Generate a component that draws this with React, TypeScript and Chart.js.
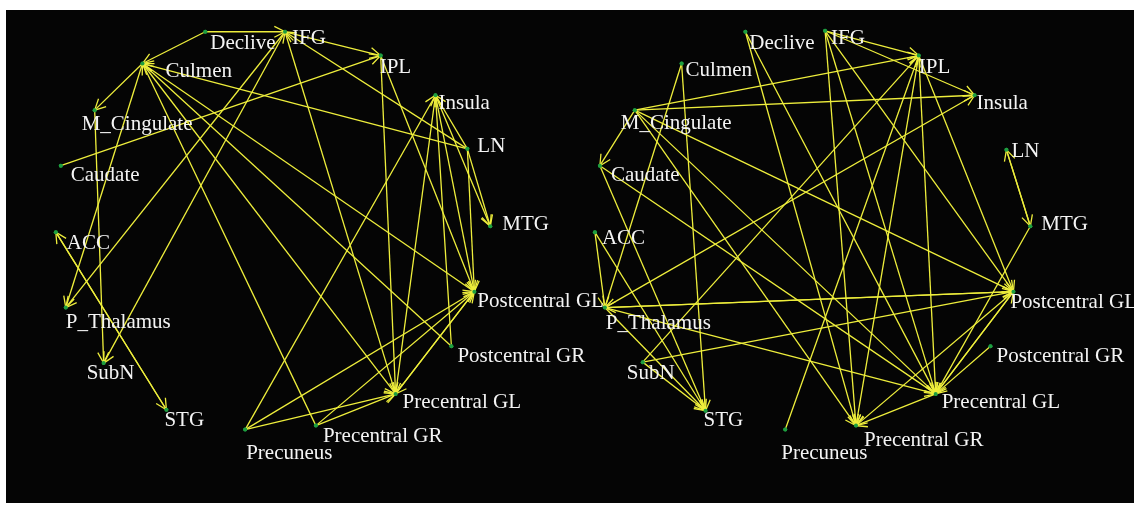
import React, { useEffect, useRef } from "react";
import { Chart, registerables } from "chart.js";

Chart.register(...registerables);

// ---------- data ----------
const NODE_NAMES = [
  "Declive", "IFG", "Culmen", "IPL", "Insula", "M_Cingulate", "LN", "Caudate", "MTG",
  "ACC", "Postcentral GL", "P_Thalamus", "Postcentral GR", "SubN", "Precentral GL",
  "STG", "Precentral GR", "Precuneus",
];

// layout coordinates of the nodes in each network (figure units)
const LEFT_X = [204, 284, 141, 380, 435, 93, 467, 59, 490, 54, 474, 64, 451, 102, 395, 165, 315, 244];
const LEFT_Y = [30, 30, 62, 54, 94, 109, 148, 165, 226, 232, 292, 308, 347, 364, 395, 411, 427, 431];
const RIGHT_X = [746, 826, 682, 920, 976, 635, 1008, 600, 1032, 595, 1015, 605, 992, 643, 937, 706, 857, 786];
const RIGHT_Y = [30, 29, 62, 54, 94, 109, 149, 165, 226, 232, 292, 308, 347, 363, 395, 412, 427, 431];

// directed connections [source, target]
const LEFT_EDGES: [string, string][] = [
  ["Declive", "IFG"],
  ["Declive", "Culmen"],
  ["LN", "IFG"],
  ["IFG", "IPL"],
  ["IFG", "P_Thalamus"],
  ["IFG", "SubN"],
  ["Precentral GL", "IFG"],
  ["Caudate", "IPL"],
  ["Culmen", "M_Cingulate"],
  ["Culmen", "P_Thalamus"],
  ["M_Cingulate", "SubN"],
  ["ACC", "STG"],
  ["STG", "ACC"],
  ["LN", "Culmen"],
  ["Precentral GR", "Culmen"],
  ["Culmen", "Precentral GL"],
  ["Postcentral GR", "Culmen"],
  ["Culmen", "Postcentral GL"],
  ["IPL", "Precentral GL"],
  ["IPL", "Postcentral GL"],
  ["Precuneus", "Insula"],
  ["Insula", "Precentral GL"],
  ["Postcentral GR", "Insula"],
  ["Insula", "Postcentral GL"],
  ["LN", "Postcentral GL"],
  ["LN", "Insula"],
  ["Insula", "MTG"],
  ["LN", "MTG"],
  ["Precuneus", "Postcentral GL"],
  ["Precuneus", "Precentral GL"],
  ["Precentral GR", "Precentral GL"],
  ["Precentral GR", "Postcentral GL"],
  ["Precentral GL", "Postcentral GL"],
  ["Postcentral GL", "Precentral GL"],
];

const RIGHT_EDGES: [string, string][] = [
  ["M_Cingulate", "IPL"],
  ["M_Cingulate", "Insula"],
  ["M_Cingulate", "Caudate"],
  ["M_Cingulate", "Precentral GR"],
  ["M_Cingulate", "Precentral GL"],
  ["M_Cingulate", "Postcentral GL"],
  ["Culmen", "P_Thalamus"],
  ["Culmen", "STG"],
  ["Declive", "Precentral GR"],
  ["Declive", "Precentral GL"],
  ["IFG", "IPL"],
  ["IFG", "Insula"],
  ["IFG", "Precentral GR"],
  ["IFG", "Precentral GL"],
  ["IFG", "Postcentral GL"],
  ["SubN", "IPL"],
  ["Precuneus", "IPL"],
  ["IPL", "Precentral GR"],
  ["IPL", "Precentral GL"],
  ["IPL", "Postcentral GL"],
  ["SubN", "Postcentral GL"],
  ["SubN", "STG"],
  ["P_Thalamus", "Insula"],
  ["P_Thalamus", "Postcentral GL"],
  ["Postcentral GL", "P_Thalamus"],
  ["ACC", "P_Thalamus"],
  ["ACC", "STG"],
  ["P_Thalamus", "STG"],
  ["Caudate", "STG"],
  ["Caudate", "Precentral GL"],
  ["P_Thalamus", "Precentral GL"],
  ["LN", "MTG"],
  ["MTG", "LN"],
  ["MTG", "Precentral GL"],
  ["Postcentral GL", "Precentral GL"],
  ["Precentral GL", "Postcentral GL"],
  ["Postcentral GL", "Precentral GR"],
  ["Precentral GL", "Precentral GR"],
  ["Postcentral GR", "Precentral GL"],
];

// ---------- style ----------
const LEFT_LABEL_DX = [5, 7, 23, -1, 3, -13, 10, 10, 12, 11, 3, 0, 6, -17, 7, -2, 7, 1];
const LEFT_LABEL_DY = [17, 12, 13, 17, 14, 20, 3, 15, 4, 17, 15, 20, 16, 16, 14, 16, 16, 29];
const RIGHT_LABEL_DX = [4, 6, 4, 0, 2, -14, 5, 11, 11, 7, -3, 1, 6, -16, 6, -2, 8, -4];
const RIGHT_LABEL_DY = [17, 13, 12, 17, 14, 19, 7, 15, 4, 12, 16, 21, 16, 17, 14, 15, 20, 29];

const EDGE_COLOR = "#eeee3c";
const NODE_COLOR = "#1e9e40";
const TEXT_COLOR = "#f4f4f4";
const FONT = '21px "Liberation Serif", "DejaVu Serif", serif';
const ARROW_LEN = 12;
const ARROW_ANGLE = (27 * Math.PI) / 180;

const W = 1134;
const H = 506;

function buildDatasets() {
  const nodePoints: { x: number; y: number }[] = [];
  const labels: { text: string; dx: number; dy: number }[] = [];
  NODE_NAMES.forEach((n, i) => {
    nodePoints.push({ x: LEFT_X[i], y: LEFT_Y[i] });
    labels.push({ text: n, dx: LEFT_LABEL_DX[i], dy: LEFT_LABEL_DY[i] });
  });
  NODE_NAMES.forEach((n, i) => {
    nodePoints.push({ x: RIGHT_X[i], y: RIGHT_Y[i] });
    labels.push({ text: n, dx: RIGHT_LABEL_DX[i], dy: RIGHT_LABEL_DY[i] });
  });

  const datasets: any[] = [
    {
      label: "nodes",
      data: nodePoints,
      pointRadius: 2,
      pointHoverRadius: 2,
      backgroundColor: NODE_COLOR,
      borderWidth: 0,
      showLine: false,
      order: 0,
      clip: false,
      nodeLabels: labels,
    },
  ];

  const addEdges = (edges: [string, string][], xs: number[], ys: number[]) => {
    edges.forEach(([s, t]) => {
      const a = NODE_NAMES.indexOf(s);
      const b = NODE_NAMES.indexOf(t);
      datasets.push({
        label: s + "->" + t,
        data: [
          { x: xs[a], y: ys[a] },
          { x: xs[b], y: ys[b] },
        ],
        showLine: true,
        borderColor: EDGE_COLOR,
        borderWidth: 1.3,
        pointRadius: 0,
        pointHoverRadius: 0,
        fill: false,
        order: 1,
        clip: false,
        isEdge: true,
      });
    });
  };
  addEdges(LEFT_EDGES, LEFT_X, LEFT_Y);
  addEdges(RIGHT_EDGES, RIGHT_X, RIGHT_Y);
  return datasets;
}

const networkPlugin = {
  id: "networkDecor",
  afterDatasetsDraw(chart: any) {
    const ctx = chart.ctx;
    ctx.save();
    // arrowheads
    ctx.strokeStyle = EDGE_COLOR;
    ctx.lineWidth = 1.3;
    chart.data.datasets.forEach((ds: any, i: number) => {
      if (!ds.isEdge) return;
      const meta = chart.getDatasetMeta(i);
      const p0 = meta.data[0];
      const p1 = meta.data[1];
      if (!p0 || !p1) return;
      const ang = Math.atan2(p1.y - p0.y, p1.x - p0.x);
      ctx.beginPath();
      ctx.moveTo(p1.x - ARROW_LEN * Math.cos(ang - ARROW_ANGLE), p1.y - ARROW_LEN * Math.sin(ang - ARROW_ANGLE));
      ctx.lineTo(p1.x, p1.y);
      ctx.lineTo(p1.x - ARROW_LEN * Math.cos(ang + ARROW_ANGLE), p1.y - ARROW_LEN * Math.sin(ang + ARROW_ANGLE));
      ctx.stroke();
    });
    // node dots on top of arrows
    const nodeMeta = chart.getDatasetMeta(0);
    const nodeDs = chart.data.datasets[0];
    ctx.fillStyle = NODE_COLOR;
    nodeMeta.data.forEach((pt: any) => {
      ctx.beginPath();
      ctx.arc(pt.x, pt.y, 2, 0, Math.PI * 2);
      ctx.fill();
    });
    // labels
    ctx.font = FONT;
    ctx.fillStyle = TEXT_COLOR;
    ctx.textBaseline = "alphabetic";
    ctx.textAlign = "left";
    nodeMeta.data.forEach((pt: any, k: number) => {
      const lb = nodeDs.nodeLabels[k];
      ctx.fillText(lb.text, pt.x + lb.dx, pt.y + lb.dy);
    });
    ctx.restore();
  },
};

export default function App() {
  const ref = useRef<HTMLCanvasElement | null>(null);

  useEffect(() => {
    if (!ref.current) return;
    const chart = new Chart(ref.current, {
      type: "scatter",
      data: { datasets: buildDatasets() },
      options: {
        animation: false,
        responsive: false,
        maintainAspectRatio: false,
        events: [],
        layout: { padding: 0 },
        plugins: {
          legend: { display: false },
          tooltip: { enabled: false },
          title: { display: false },
        },
        scales: {
          x: { type: "linear", min: 0, max: W, display: false },
          y: { type: "linear", min: 0, max: H, reverse: true, display: false },
        },
      } as any,
      plugins: [networkPlugin],
    });
    return () => chart.destroy();
  }, []);

  return (
    <div style={{ position: "absolute", left: 0, top: 0, width: W, height: H, background: "#ffffff", overflow: "hidden" }}>
      <div style={{ position: "absolute", left: 6, top: 10, width: W - 6, height: 493, background: "#050505" }} />
      <canvas ref={ref} width={W} height={H} style={{ position: "absolute", left: 0, top: 0, width: W, height: H }} />
    </div>
  );
}
